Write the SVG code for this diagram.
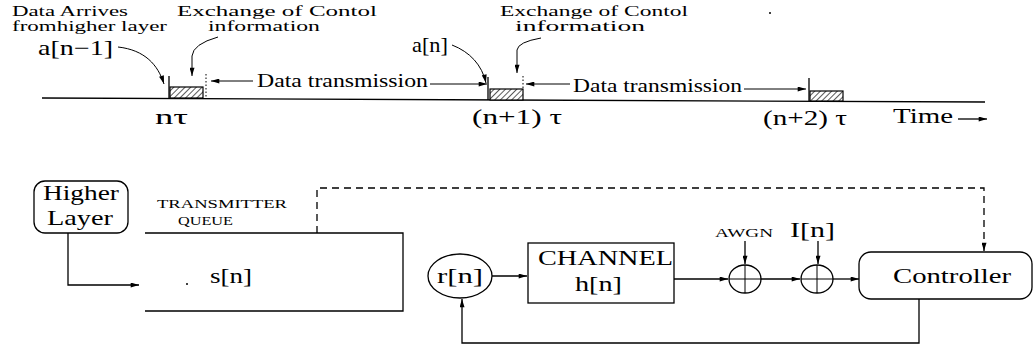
<svg xmlns="http://www.w3.org/2000/svg" width="1034" height="354" viewBox="0 0 1034 354">
  <style>
    text { font-family: "Liberation Serif", "DejaVu Serif", "Noto Serif", "Times New Roman", serif; fill: #000; }
    .ln { fill: none; stroke: #000; stroke-width: 1.3; }
    .thin { fill: none; stroke: #000; stroke-width: 1; }
    .dash { fill: none; stroke: #000; stroke-width: 1.3; stroke-dasharray: 7 5; }
    .dot { fill: none; stroke: #000; stroke-width: 1; stroke-dasharray: 1.5 2; }
    .box { fill: #fff; stroke: #000; stroke-width: 1.3; }
    .slot { fill: url(#hatch); stroke: #000; stroke-width: 1.2; }
    .arr { marker-end: url(#ah); }
  </style>
  <defs>
    <marker id="ah" viewBox="0 0 10 6" refX="10" refY="3" markerWidth="9" markerHeight="5" orient="auto" markerUnits="userSpaceOnUse">
      <path d="M0,0 L10,3 L0,6 z" fill="#000"/>
    </marker>
    <pattern id="hatch" width="4" height="4" patternUnits="userSpaceOnUse" patternTransform="rotate(45)">
      <rect width="4" height="4" fill="#fff"/>
      <line x1="0" y1="0" x2="0" y2="4" stroke="#000" stroke-width="1.3"/>
    </pattern>
  </defs>

  <rect width="1034" height="354" fill="#fff"/>

  <!-- time axis -->
  <g id="timeline">
    <path class="ln" d="M42,98 L985,102"/>
    <path class="ln" d="M169,76 V98"/>
    <path class="ln" d="M488,77 V100"/>
    <path class="ln" d="M809,78 V101"/>
    <rect class="slot" x="170" y="87" width="33" height="11"/>
    <rect class="slot" x="490" y="89" width="33" height="11"/>
    <rect class="slot" x="810" y="91" width="33" height="10"/>
    <path class="dot" d="M206,74 V97"/>
    <path class="dot" d="M523,76 V88"/>
    <text x="155" y="124" font-size="21" textLength="33" lengthAdjust="spacingAndGlyphs">nτ</text>
    <text x="472" y="124" font-size="21" textLength="90" lengthAdjust="spacingAndGlyphs">(n+1) τ</text>
    <text x="763" y="125" font-size="21" textLength="84" lengthAdjust="spacingAndGlyphs">(n+2) τ</text>
    <text x="893" y="123" font-size="20" textLength="60" lengthAdjust="spacingAndGlyphs">Time</text>
    <path class="ln arr" d="M958,119 H987"/>
    <circle cx="770" cy="13" r="1" fill="#000"/>
  </g>

  <!-- annotations above the axis -->
  <g id="annotations">
    <text x="12" y="16" font-size="15" textLength="116" lengthAdjust="spacingAndGlyphs">Data Arrives</text>
    <text x="12" y="31" font-size="15" textLength="155" lengthAdjust="spacingAndGlyphs">fromhigher layer</text>
    <text x="38" y="55" font-size="21" textLength="75" lengthAdjust="spacingAndGlyphs">a[n−1]</text>
    <text x="177" y="16" font-size="15" textLength="200" lengthAdjust="spacingAndGlyphs">Exchange of Contol</text>
    <text x="208" y="31" font-size="15" textLength="112" lengthAdjust="spacingAndGlyphs">information</text>
    <text x="412" y="52" font-size="21" textLength="36" lengthAdjust="spacingAndGlyphs">a[n]</text>
    <text x="500" y="16" font-size="15" textLength="188" lengthAdjust="spacingAndGlyphs">Exchange of Contol</text>
    <text x="515" y="31" font-size="15" textLength="130" lengthAdjust="spacingAndGlyphs">information</text>
    <text x="257" y="87" font-size="19" textLength="171" lengthAdjust="spacingAndGlyphs">Data transmission</text>
    <text x="573" y="92" font-size="19" textLength="169" lengthAdjust="spacingAndGlyphs">Data transmission</text>
  </g>

  <!-- pointers on the time axis -->
  <g id="pointers">
    <path class="thin arr" d="M118,47 C145,50 158,65 164,84"/>
    <path class="thin arr" d="M218,37 Q193,44 192,56 L192,76"/>
    <path class="thin arr" d="M452,45 C470,52 482,65 486,83"/>
    <path class="thin arr" d="M541,38 Q518,42 517,50 L517,73"/>
    <path class="thin arr" d="M253,81 H211"/>
    <path class="thin arr" d="M430,84 H487"/>
    <path class="thin arr" d="M570,84 H526"/>
    <path class="thin arr" d="M744,89 H806"/>
  </g>

  <!-- block diagram nodes -->
  <g id="higher-layer">
    <rect class="box" x="34" y="181" width="94" height="52" rx="11"/>
    <text x="81" y="200" font-size="21" text-anchor="middle" textLength="76" lengthAdjust="spacingAndGlyphs">Higher</text>
    <text x="80" y="225" font-size="21" text-anchor="middle" textLength="66" lengthAdjust="spacingAndGlyphs">Layer</text>
  </g>

  <g id="transmitter-queue">
    <path class="ln" d="M145,233 H403 V311 H145"/>
    <text x="157" y="208" font-size="12" textLength="130" lengthAdjust="spacingAndGlyphs">TRANSMITTER</text>
    <text x="178" y="225" font-size="12" textLength="55" lengthAdjust="spacingAndGlyphs">QUEUE</text>
    <text x="210" y="283" font-size="21" textLength="42" lengthAdjust="spacingAndGlyphs">s[n]</text>
    <circle cx="187" cy="284" r="1" fill="#000"/>
  </g>

  <g id="rate">
    <ellipse class="box" cx="460" cy="276" rx="32" ry="22"/>
    <text x="460" y="283" font-size="21" text-anchor="middle" textLength="46" lengthAdjust="spacingAndGlyphs">r[n]</text>
  </g>

  <g id="channel">
    <rect class="box" x="528" y="243" width="146" height="60"/>
    <text x="538" y="265" font-size="20" textLength="135" lengthAdjust="spacingAndGlyphs">CHANNEL</text>
    <text x="575" y="291" font-size="20" textLength="47" lengthAdjust="spacingAndGlyphs">h[n]</text>
  </g>

  <g id="awgn-adder">
    <ellipse class="box" cx="745" cy="279" rx="16" ry="14"/>
    <path class="thin" d="M729,279 H761 M745,265 V293"/>
    <text x="715" y="237" font-size="12" textLength="58" lengthAdjust="spacingAndGlyphs">AWGN</text>
  </g>

  <g id="interference-adder">
    <ellipse class="box" cx="817" cy="279" rx="16" ry="14"/>
    <path class="thin" d="M801,279 H833 M817,265 V293"/>
    <text x="790" y="237" font-size="22" textLength="45" lengthAdjust="spacingAndGlyphs">I[n]</text>
  </g>

  <g id="controller">
    <rect class="box" x="859" y="252" width="173" height="47" rx="12"/>
    <text x="952" y="283" font-size="21" text-anchor="middle" textLength="118" lengthAdjust="spacingAndGlyphs">Controller</text>
  </g>

  <!-- connectors -->
  <g id="connectors">
    <path class="ln arr" d="M68,233 V285 H139"/>
    <path class="dash arr" d="M317,233 V188 H984 V251"/>
    <path class="ln arr" d="M492,276 H527"/>
    <path class="ln arr" d="M674,279 H728"/>
    <path class="ln arr" d="M745,241 V264"/>
    <path class="ln arr" d="M761,279 H800"/>
    <path class="ln arr" d="M818,241 V264"/>
    <path class="ln arr" d="M833,279 H859"/>
    <path class="ln arr" d="M919,299 V343 H462 V299"/>
  </g>
</svg>
